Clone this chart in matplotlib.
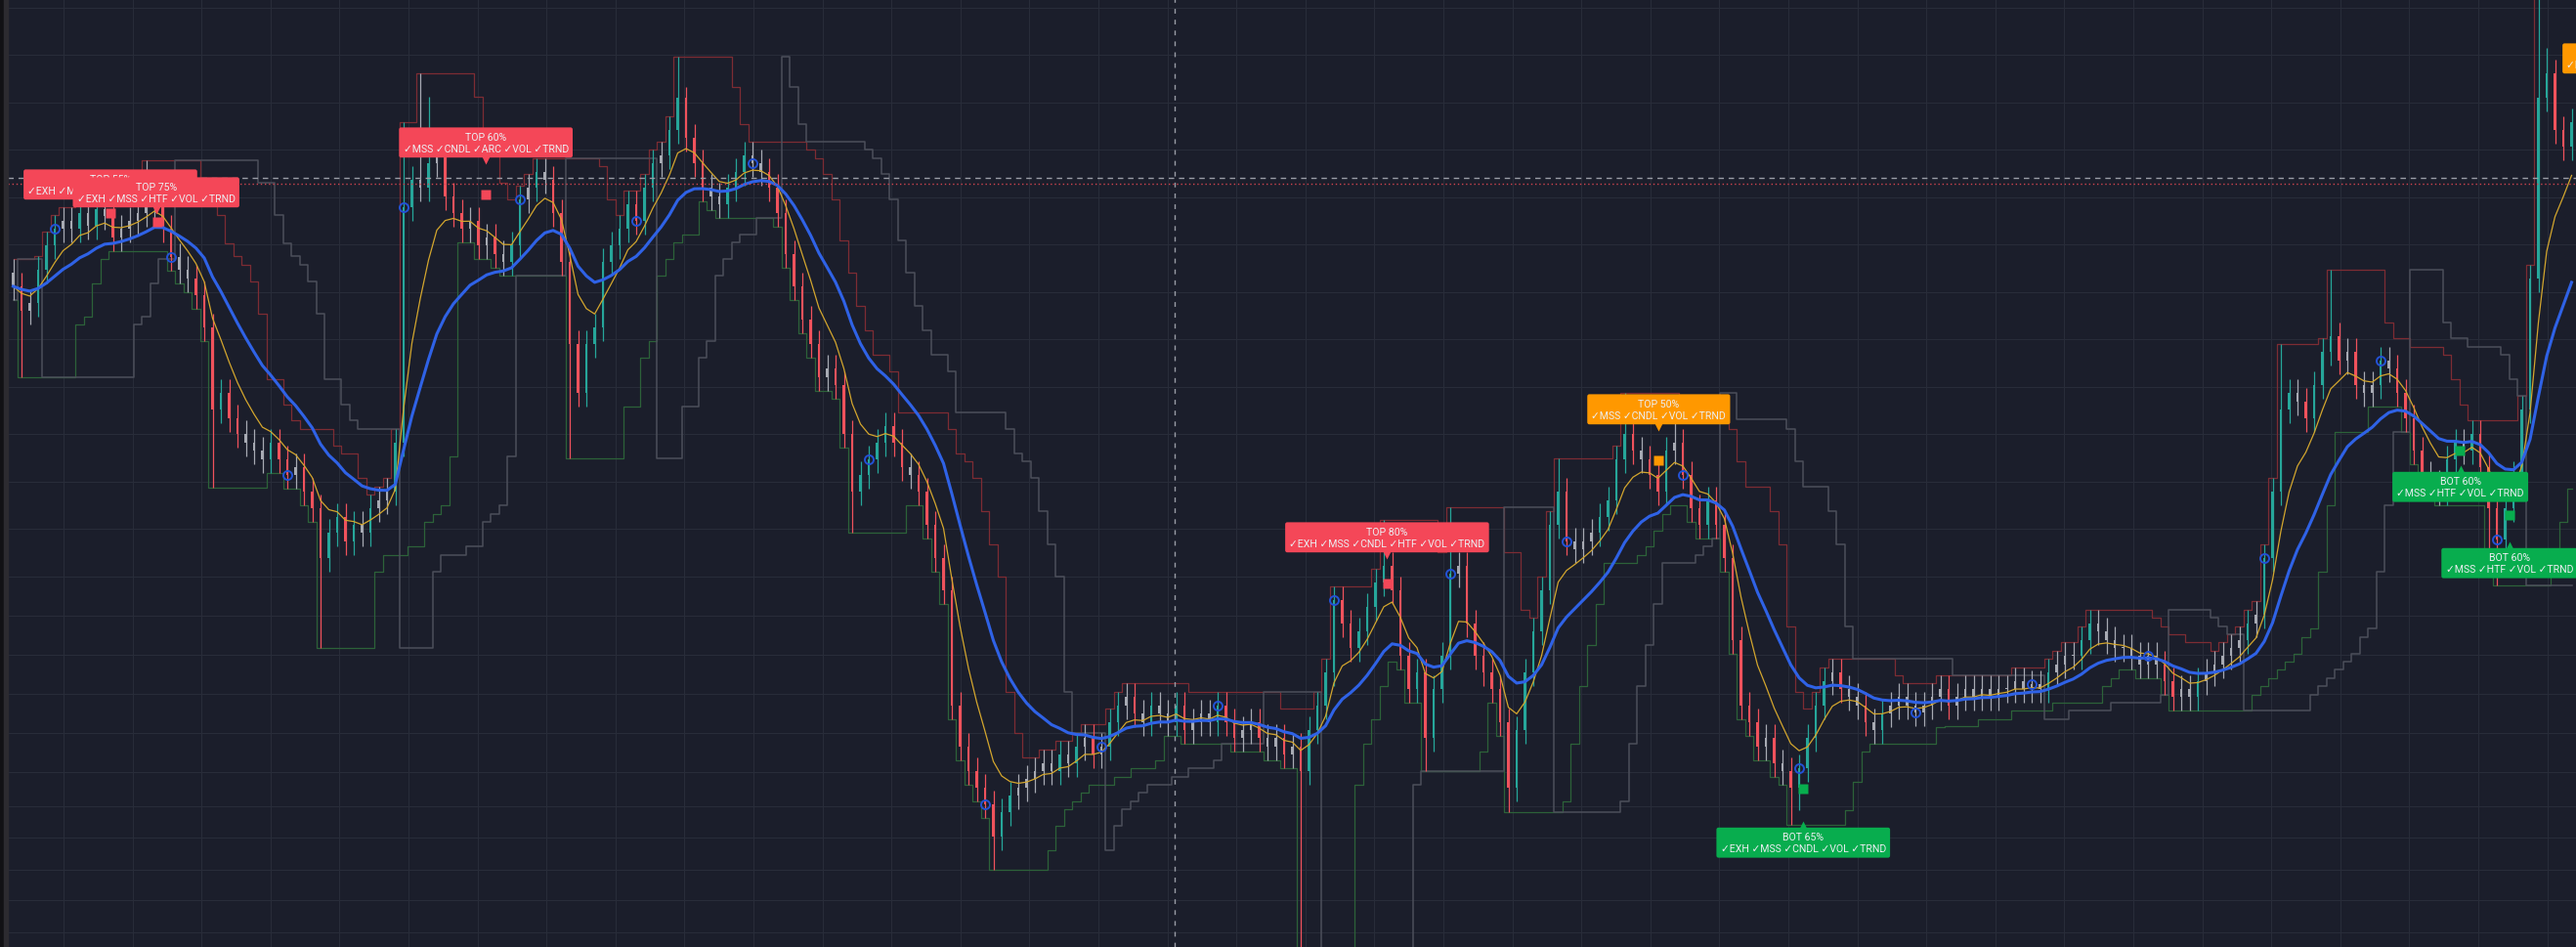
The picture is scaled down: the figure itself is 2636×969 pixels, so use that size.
import numpy as np
import pandas as pd
import matplotlib
matplotlib.use("Agg")
import matplotlib.pyplot as plt
from matplotlib.patches import Rectangle
from matplotlib.transforms import offset_copy

# ---- data (price units are arbitrary, chart has no price scale) ----
closes = [
    676, 651, 659, 693, 718, 735, 743, 735, 751, 738,
    755, 748, 726, 735, 743, 751, 760, 768, 735, 706,
    693, 684, 667, 634, 550, 567, 541, 525, 516, 508,
    499, 516, 499, 483, 491, 466, 449, 398, 424, 440,
    415, 432, 424, 449, 457, 466, 516, 757, 785, 777,
    802, 810, 768, 751, 735, 743, 718, 726, 709, 701,
    718, 765, 777, 793, 785, 751, 701, 617, 567, 617,
    634, 701, 718, 735, 760, 743, 777, 802, 810, 836,
    869, 828, 802, 777, 768, 760, 777, 793, 810, 802,
    793, 777, 751, 709, 676, 642, 617, 583, 592, 575,
    525, 466, 483, 499, 516, 533, 516, 491, 483, 466,
    432, 398, 365, 247, 205, 180, 163, 146, 113, 138,
    155, 163, 172, 180, 188, 180, 197, 188, 205, 214,
    197, 205, 230, 247, 256, 239, 230, 247, 239, 230,
    247, 222, 230, 239, 230, 247, 230, 214, 222, 230,
    214, 205, 214, 197, 205, 180, 222, 247, 281, 355,
    331, 306, 323, 348, 373, 390, 365, 298, 264, 281,
    214, 264, 298, 382, 390, 331, 298, 281, 264, 230,
    163, 222, 281, 323, 365, 432, 466, 415, 407, 415,
    424, 440, 457, 499, 525, 508, 499, 483, 466, 508,
    516, 483, 449, 432, 457, 432, 398, 314, 247, 230,
    205, 214, 188, 180, 163, 183, 214, 247, 272, 281,
    264, 256, 247, 230, 222, 239, 247, 256, 247, 240,
    247, 256, 264, 247, 256, 264, 256, 264, 256, 264,
    264, 272, 264, 269, 264, 281, 289, 298, 298, 314,
    331, 323, 314, 306, 306, 298, 289, 298, 289, 272,
    256, 264, 256, 272, 281, 289, 298, 306, 314, 331,
    340, 398, 466, 550, 567, 558, 541, 575, 609, 625,
    600, 609, 575, 567, 575, 600, 592, 567, 541, 508,
    483, 474, 466, 499, 516, 508, 525, 491, 449, 417,
    449, 483, 550, 684, 869, 894, 836, 819, 844,
]
first_open = 690

# long wicks (bar index -> price)
spike_highs = {16: 805, 47: 844, 49: 894, 50: 870, 80: 911, 81: 880,
               165: 437, 173: 450, 186: 500, 194: 567, 200: 540,
               273: 617, 279: 693, 304: 975, 305: 920}
spike_lows = {1: 583, 24: 470, 37: 306, 67: 500, 101: 424, 118: 79,
              155: -5, 170: 180, 180: 138, 214: 125, 215: 140,
              294: 470, 298: 380, 299: 370}

# signal labels: bar, price of tip, head, checks, kind
sig_bars = [11.7, 17.2, 56.9, 165.4, 198.1, 215.5, 294.6, 300.5, 315.5]
sig_prices = [759, 751, 802, 398, 529, 128, 492, 414, 888]
sig_heads = ["TOP 55%", "TOP 75%", "TOP 60%", "TOP 80%", "TOP 50%",
             "BOT 65%", "BOT 60%", "BOT 60%", "TOP 55%"]
sig_checks = ["✓EXH ✓MSS ✓CNDL ✓VOL ✓TRND",
              "✓EXH ✓MSS ✓HTF ✓VOL ✓TRND",
              "✓MSS ✓CNDL ✓ARC ✓VOL ✓TRND",
              "✓EXH ✓MSS ✓CNDL ✓HTF ✓VOL ✓TRND",
              "✓MSS ✓CNDL ✓VOL ✓TRND",
              "✓EXH ✓MSS ✓CNDL ✓VOL ✓TRND",
              "✓MSS ✓HTF ✓VOL ✓TRND",
              "✓MSS ✓HTF ✓VOL ✓TRND",
              "✓MSS ✓CNDL ✓VOL ✓TRND"]
sig_kind = ["top", "top", "top", "top", "warn", "bot", "bot", "bot", "warn"]

# small square markers
sq_bars = [11.7, 17.35, 56.9, 165.5, 198.0, 215.5, 294.5, 300.5]
sq_prices = [751, 742, 770, 372, 498, 162, 508, 442]
sq_kind = ["top", "top", "top", "top", "warn", "bot", "bot", "bot"]

grid_prices = [961, 913, 864, 816, 767, 719, 670, 622, 573, 525, 476, 428,
               379, 339, 299, 259, 219, 179, 144, 112, 79, 48, 15]

# ---- colours ----
BG = "#1b1e2b"
GRID = "#282c39"
UP = "#26a69a"
DN = "#f0525c"
NEUTRAL = "#a7aab3"
KIND_COL = {"top": "#f44758", "warn": "#ff9800", "bot": "#08ad4e"}

n = len(closes)
x = np.arange(n)
c = np.array(closes, dtype=float)
o = np.concatenate([[first_open], c[:-1]])
h = np.maximum(o, c) + 14
l = np.minimum(o, c) - 14
for k, v in spike_highs.items():
    h[k] = v
for k, v in spike_lows.items():
    l[k] = v

s = pd.Series(c)
ema_fast = s.ewm(span=6, adjust=False).mean()
ema_slow = s.ewm(span=15, adjust=False).mean()
upper = pd.Series(h).rolling(7, min_periods=1).max()
lower = pd.Series(l).rolling(7, min_periods=1).min()

# slow trailing stop (grey)
lo_n = pd.Series(l).rolling(14, min_periods=1).min().values
hi_n = pd.Series(h).rolling(14, min_periods=1).max().values
trail = []
up = True
level = lo_n[0]
for i in range(n):
    if up:
        level = max(level, lo_n[i])
        if c[i] < level:
            up = False
            level = hi_n[i]
    else:
        level = min(level, hi_n[i])
        if c[i] > level:
            up = True
            level = lo_n[i]
    trail.append(level)

# ---- figure ----
W, H = 2636, 970
fig = plt.figure(figsize=(W / 100, H / 100), dpi=100, facecolor=BG)
ax = fig.add_axes([8 / W, 0, (W - 8) / W, 1])
ax.set_facecolor(BG)
fig.add_artist(Rectangle((0, 0), 4 / W, 1, transform=fig.transFigure, color="#111114"))
fig.add_artist(Rectangle((4 / W, 0), 4 / W, 1, transform=fig.transFigure, color="#2c2b30"))

ax.set_xlim((8 - 13.5) / 8.5, (W - 13.5) / 8.5)
ax.set_ylim(0, 970)
for sp in ax.spines.values():
    sp.set_visible(False)
ax.set_xticks(np.arange((65 - 13.5) / 8.5, n + 2, 70.6 / 8.5))
ax.set_yticks(grid_prices)
ax.tick_params(length=0, labelbottom=False, labelleft=False)
ax.grid(True, color=GRID, lw=0.8)
ax.set_axisbelow(True)

# bands
ax.step(x, upper, where="mid", color="#7d2c33", lw=0.9, zorder=2)
ax.step(x, lower, where="mid", color="#2c6239", lw=0.9, zorder=2)
ax.step(x, trail, where="mid", color="#4c4f5a", lw=1.1, zorder=2)

# candles
body = np.abs(c - o)
cols = [NEUTRAL if b < 15 else (UP if cc > oo else DN) for b, cc, oo in zip(body, c, o)]
ax.vlines(x, l, h, colors=cols, lw=0.9, zorder=3)
ax.bar(x, np.maximum(body, 1.5), bottom=np.minimum(o, c), width=0.3, color=cols, zorder=3)

# moving averages
ax.plot(x, ema_fast, color="#d3a62e", lw=0.9, zorder=4)
ax.plot(x, ema_slow, color="#2f62e6", lw=2.2, zorder=4)

# period circles
circ = np.arange(5, n, 14)
ax.plot(circ, c[circ], "o", ms=6.5, mfc="none", mec="#2352d6", mew=1.4, zorder=5)

# crosshair / price lines
ax.axhline(787, color="#9a9da6", lw=1.0, dashes=(4, 3.5), zorder=4)
ax.axhline(781, color="#d0454f", lw=1.0, dashes=(1, 2), zorder=4)
ax.axvline(139.8, color="#9a9da6", lw=1.0, dashes=(3.5, 4.5), zorder=4)

# square markers
for bx, py, k in zip(sq_bars, sq_prices, sq_kind):
    ax.plot(bx, py, "s", ms=6.5, color=KIND_COL[k], mec="none", zorder=6)

# labels
fam = ["Roboto", "DejaVu Sans"]
for bx, py, head, chk, k in zip(sig_bars, sig_prices, sig_heads, sig_checks, sig_kind):
    col = KIND_COL[k]
    top = k != "bot"
    dy = 10 if top else -10
    ax.annotate(head + "\n" + chk, xy=(bx, py), xytext=(0, dy),
                textcoords="offset pixels", ha="center",
                va="bottom" if top else "top", fontsize=7.6, color="#eceef2",
                family=fam, linespacing=1.3, zorder=8, annotation_clip=False,
                bbox=dict(boxstyle="round,pad=0.4,rounding_size=0.2", fc=col, ec="none"))
    tr = offset_copy(ax.transData, fig=fig, x=0, y=4 if top else -4, units="dots")
    ax.plot(bx, py, "v" if top else "^", ms=7, color=col, mec="none",
            transform=tr, zorder=8, clip_on=False)

fig.savefig("out.png", dpi=100, facecolor=BG)
